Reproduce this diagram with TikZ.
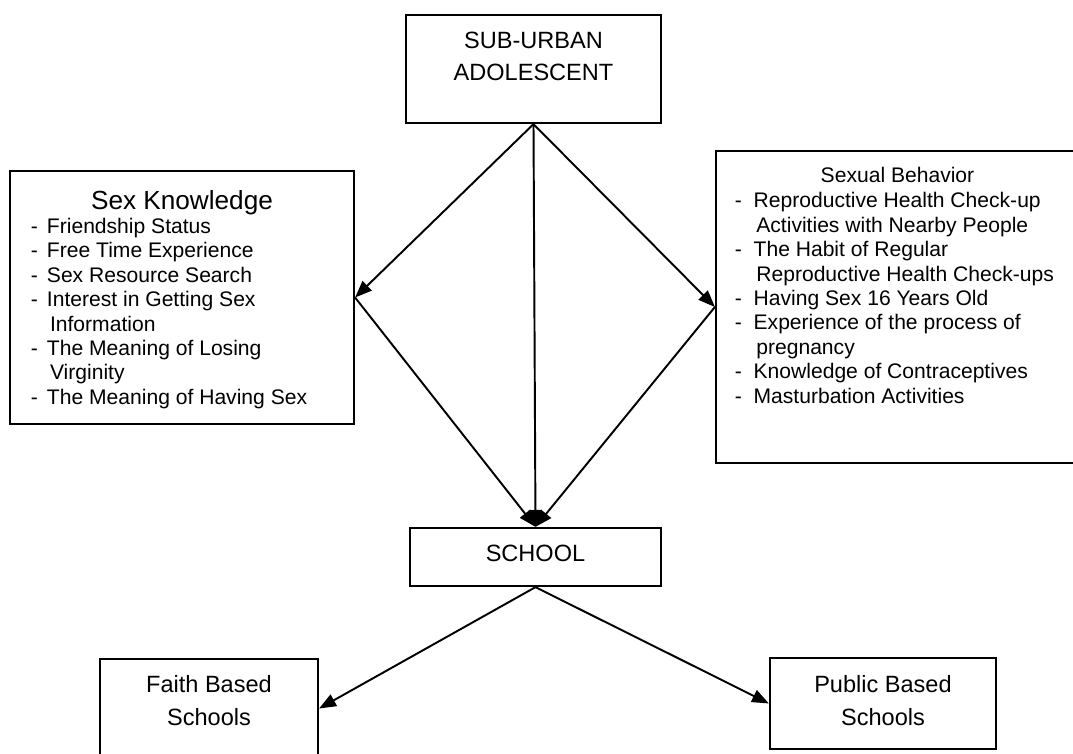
\documentclass[tikz,border=0pt]{standalone}
\usepackage{fontspec}
\setmainfont{Liberation Sans}
\usetikzlibrary{arrows.meta}

\begin{document}
\begin{tikzpicture}[x=0.02cm,y=-0.02cm]
  % Styles
  \tikzstyle{box}=[draw,line width=1.3pt,rectangle,inner sep=0pt]
  \tikzstyle{link}=[line width=1.1pt,-{Triangle[length=9.6pt,width=7.4pt]}]
  \tikzstyle{item}=[anchor=base west,inner sep=0pt,font=\fontsize{12}{14}\selectfont]
  \tikzstyle{label}=[anchor=base,inner sep=0pt,font=\fontsize{13.4}{16}\selectfont]

  \useasboundingbox (0,0) rectangle (1073,754);

  % The boxes
  \node[box,minimum width=5.1cm,minimum height=2.16cm] (adol) at (533.5,69) {};
  \node[box,minimum width=6.88cm,minimum height=5.06cm] (know) at (182,297.5) {};
  \node[box,minimum width=7.28cm,minimum height=6.24cm] (behav) at (898,307) {};
  \node[box,minimum width=5.02cm,minimum height=1.16cm] (school) at (535.5,557) {};
  \node[box,minimum width=4.36cm,minimum height=1.98cm] (faith) at (209,708.5) {};
  \node[box,minimum width=4.52cm,minimum height=1.82cm] (public) at (883,703.5) {};

  % Box texts
  \node[label] (adol-a) at (533.5,48.7) {SUB-URBAN};
  \node[label] (adol-b) at (533.5,80.3) {ADOLESCENT};
  \node[label] (school-a) at (535.5,561.8) {SCHOOL};
  \node[label] (faith-a) at (209,692.6) {Faith Based};
  \node[label] (faith-b) at (209,725.3) {Schools};
  \node[label] (public-a) at (883,692.6) {Public Based};
  \node[label] (public-b) at (883,725.3) {Schools};

  % Sex knowledge list
  \node[label,font=\fontsize{14.9}{18}\selectfont] (know-title) at (182,209.5) {Sex Knowledge};
  \foreach \i/\t in {0/Friendship Status, 1/Free Time Experience, 2/Sex Resource Search,
                     3/Interest in Getting Sex, 5/The Meaning of Losing, 7/The Meaning of Having Sex}
  {
    \node[item] (know-d\i) at (30.5,233.5+24.4*\i) {-};
    \node[item] (know-\i) at (46.6,233.5+24.4*\i) {\t};
  }
  \foreach \i/\t in {4/Information, 6/Virginity}
    \node[item] (know-\i) at (49.7,233.5+24.4*\i) {\t};

  % Sexual behavior list
  \node[label,font=\fontsize{12}{14}\selectfont] (behav-title) at (897.5,182.5) {Sexual Behavior};
  \foreach \i/\t in {0/Reproductive Health Check-up, 2/The Habit of Regular, 4/Having Sex 16 Years Old,
                     5/Experience of the process of, 7/Knowledge of Contraceptives, 8/Masturbation Activities}
  {
    \node[item] (behav-d\i) at (734.5,207.9+24.4*\i) {-};
    \node[item] (behav-\i) at (753.3,207.9+24.4*\i) {\t};
  }
  \foreach \i/\t in {1/Activities with Nearby People, 3/Reproductive Health Check-ups, 6/pregnancy}
    \node[item] (behav-\i) at (756,207.9+24.4*\i) {\t};

  % Connectors
  \draw[link] (adol.south) -- (know.east);
  \draw[link] (adol.south) -- (behav.west);
  \draw[link] (adol.south) -- (school.north);
  \draw[link] (know.east) -- (school.north);
  \draw[link] (behav.west) -- (school.north);
  \draw[link] (school.south) -- (faith.east);
  \draw[link] (school.south) -- (public.west);
\end{tikzpicture}
\end{document}
